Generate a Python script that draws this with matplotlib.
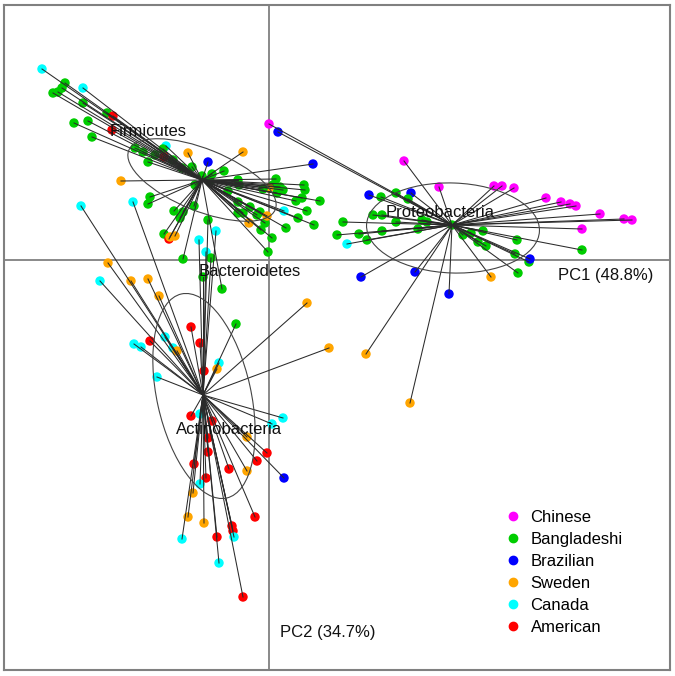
import numpy as np
import matplotlib
matplotlib.use('Agg')
import matplotlib.pyplot as plt
from matplotlib.patches import Ellipse
from matplotlib.lines import Line2D

plt.rcParams['font.family'] = ['Liberation Sans', 'DejaVu Sans']

# country colours (R style)
countries = ['Chinese', 'Bangladeshi', 'Brazilian', 'Sweden', 'Canada', 'American']
colors = {'Chinese': '#FF00FF', 'Bangladeshi': '#00CD00', 'Brazilian': '#0000FF',
          'Sweden': '#FFA500', 'Canada': '#00FFFF', 'American': '#FF0000'}
code = {'C': 'Chinese', 'B': 'Bangladeshi', 'Z': 'Brazilian', 'S': 'Sweden', 'N': 'Canada', 'A': 'American'}

# Firmicutes samples
firm_x = [-2.27, -2.04, -2.07, -2.11, -2.16, -1.86, -1.86, -1.62, -1.56, -1.95, -1.81, -1.57, -1.77,
          -1.34, -1.26, -1.21, -1.14, -1.03, -1.06, -1.05, -0.96, -0.87, -0.77, -0.81, -0.61, -0.26,
          -0.45, -0.57, -0.67, -0.59, -0.74, -1.48, 0.44, -0.31, -0.30, 0.07, 0.04, 0.11, 0.14, 0.08,
          0.35, 0.36, 0.33, 0.27, 0.51, 0.38, 0.29, 0.45, 0.17, 0.00, -0.06, -0.41, -0.31, -0.19,
          -0.09, -0.12, -0.04, -0.31, -0.26, -0.02, -0.20, 0.15, -0.08, 0.03, -0.01, -1.19, -1.21,
          -0.95, -0.86, -0.89, -0.75, -1.05, -1.00, -0.99, -0.94, -0.86, -0.47]
firm_y = [1.91, 1.77, 1.72, 1.68, 1.67, 1.72, 1.57, 1.47, 1.44, 1.37, 1.39, 1.30, 1.23,
          1.12, 1.08, 0.98, 1.05, 1.14, 1.11, 1.03, 1.00, 0.92, 0.93, 1.07, 0.98, 1.08,
          0.89, 0.86, 0.84, 0.79, 0.75, 0.79, 0.96, 0.80, 0.75, 0.81, 0.75, 0.73, 0.70, 0.67,
          0.75, 0.70, 0.62, 0.59, 0.59, 0.49, 0.42, 0.35, 0.32, 0.72, 0.71, 0.69, 0.58, 0.53,
          0.48, 0.45, 0.37, 0.47, 0.47, 0.44, 0.37, 0.49, 0.30, 0.22, 0.08, 0.63, 0.56,
          0.49, 0.48, 0.42, 0.54, 0.26, 0.21, 0.23, 0.24, 0.01, -0.29]
firm_c = list('NBBBBNBBABBAB' 'BBBBNBABBBSZS' 'BBBBBSZBBBBBB' 'BBBBBBBBBBSBBB'
              'BBBBBBSSNBBBBB' 'BBBBBASSBB')

# Actinobacteria samples
actino_x = [-1.88, -1.36, -0.70, -0.53, -0.63, -0.58, -0.61, -0.66, -1.61, -1.69, -1.38, -1.21,
            -1.10, -0.78, -1.19, -1.35, -1.28, -1.04, -0.96, -0.92, -0.69, -0.33, -0.50, -0.52,
            -0.65, -1.12, 0.38, 0.60, -0.78, -0.69, -0.57, 0.14, 0.03, -0.22, -0.61, -0.61, -0.02,
            -0.12, -0.75, -0.40, -0.22, -0.63, -0.69, 0.15, -0.76, -0.14, -0.81, -0.65, -0.37,
            -0.36, -0.35, -0.87, -0.52, -0.50, -0.26]
actino_y = [0.54, 0.58, 0.20, 0.29, 0.08, 0.02, 0.40, -0.17, -0.03, -0.21, -0.21, -0.19,
            -0.36, -0.67, -0.81, -0.84, -0.87, -0.77, -0.88, -0.91, -0.83, -0.64, -1.03, -1.09,
            -1.11, -1.17, -0.43, -0.88, -1.56, -1.54, -1.61, -1.58, -1.64, -1.77, -1.78, -1.92, -1.93,
            -2.01, -2.04, -2.09, -2.11, -2.18, -2.24, -2.18, -2.33, -2.57, -2.57, -2.63, -2.66,
            -2.71, -2.77, -2.79, -2.77, -3.03, -3.37]
actino_c = list('NNNNNBBBSNSS' 'SAANNNNSABNS' 'ANSSANANNSAAA' 'AAASANZSASSA' 'ANNANA')

# Proteobacteria samples
proteo_x = [1.35, 1.70, 2.25, 2.33, 2.45, 2.77, 2.92, 3.01, 3.07, 3.31, 3.55, 3.63, 3.13, 3.13,
            1.00, 1.42, 1.27, 1.12, 1.39, 1.04, 1.13, 1.27, 1.53, 1.58, 1.49, 0.74, 0.68, 0.90,
            1.13, 0.98, 0.78, 1.83, 1.94, 2.02, 2.14, 2.09, 2.17, 2.48, 2.46, 2.60, 2.61, 2.49,
            2.22, 0.92, 1.46, 1.80, 0.00, 0.09, 0.97, 1.41]
proteo_y = [0.99, 0.73, 0.74, 0.74, 0.72, 0.62, 0.58, 0.56, 0.54, 0.46, 0.41, 0.40, 0.31, 0.10,
            0.65, 0.67, 0.67, 0.63, 0.61, 0.45, 0.45, 0.38, 0.40, 0.38, 0.31, 0.38, 0.25, 0.26,
            0.29, 0.20, 0.16, 0.35, 0.25, 0.27, 0.29, 0.18, 0.14, 0.20, 0.06, -0.02, 0.01, -0.13,
            -0.17, -0.17, -0.12, -0.34, 1.36, 1.28, -0.94, -1.43]
proteo_c = list('CCCCCCCCCCCCCB' 'ZZBBBBBBBBBBBB' 'BBNBBBBBBBBBZB' 'SZZZCZSS')

# cluster centres and ellipses (centre x, centre y, width, height, angle)
centres = {'Firmicutes': (-0.67, 0.80), 'Actinobacteria': (-0.66, -1.35), 'Proteobacteria': (1.83, 0.35)}
ell_firm = (-0.67, 0.80, 1.58, 0.62, -22)
ell_actino = (-0.65, -1.36, 2.09, 0.94, -77.5)
ell_proteo = (1.84, 0.32, 1.73, 0.90, -2)

groups = [('Firmicutes', firm_x, firm_y, firm_c, ell_firm),
          ('Actinobacteria', actino_x, actino_y, actino_c, ell_actino),
          ('Proteobacteria', proteo_x, proteo_y, proteo_c, ell_proteo)]

fig = plt.figure(figsize=(6.75, 6.76), dpi=100)
ax = fig.add_axes([4 / 675, 6 / 676, 666 / 675, 665 / 676])
ax.set_xlim(-2.65, 4.01)
ax.set_ylim(-4.10, 2.55)
ax.set_xticks([])
ax.set_yticks([])
for s in ax.spines.values():
    s.set_color('#808080')
    s.set_linewidth(1.5)
ax.axhline(0, color='#808080', lw=1.3, zorder=1)
ax.axvline(0, color='#808080', lw=1.3, zorder=1)

for name, xs, ys, cs, el in groups:
    cx, cy = centres[name]
    cols = [colors[code[c]] for c in cs]
    ax.scatter(xs, ys, s=46, c=cols, edgecolors='none', zorder=3)
    for x, y in zip(xs, ys):
        ax.plot([cx, x], [cy, y], color='#2a2a2a', lw=0.75, zorder=4)
    ax.add_patch(Ellipse((el[0], el[1]), el[2], el[3], angle=el[4], fill=False,
                         edgecolor='#444444', lw=0.8, zorder=4))

txt = dict(fontsize=12, color='#111111', ha='center', va='center', zorder=5)
ax.text(-1.205, 1.28, 'Firmicutes', **txt)
ax.text(1.71, 0.47, 'Proteobacteria', **txt)
ax.text(-0.19, -0.12, 'Bacteroidetes', **txt)
ax.text(-0.40, -1.70, 'Actinobacteria', **txt)
ax.text(3.37, -0.16, 'PC1 (48.8%)', **txt)
ax.text(0.59, -3.73, 'PC2 (34.7%)', **txt)

handles = [Line2D([], [], marker='o', ls='none', color=colors[c], markersize=6) for c in countries]
ax.legend(handles, countries, loc='upper left', bbox_to_anchor=(508 / 675, 1 - 510 / 676),
          bbox_transform=fig.transFigure, frameon=False, fontsize=12, handlelength=0.6,
          handletextpad=0.75, labelspacing=0.42, borderpad=0, borderaxespad=0)

fig.savefig('out.png', dpi=100)
